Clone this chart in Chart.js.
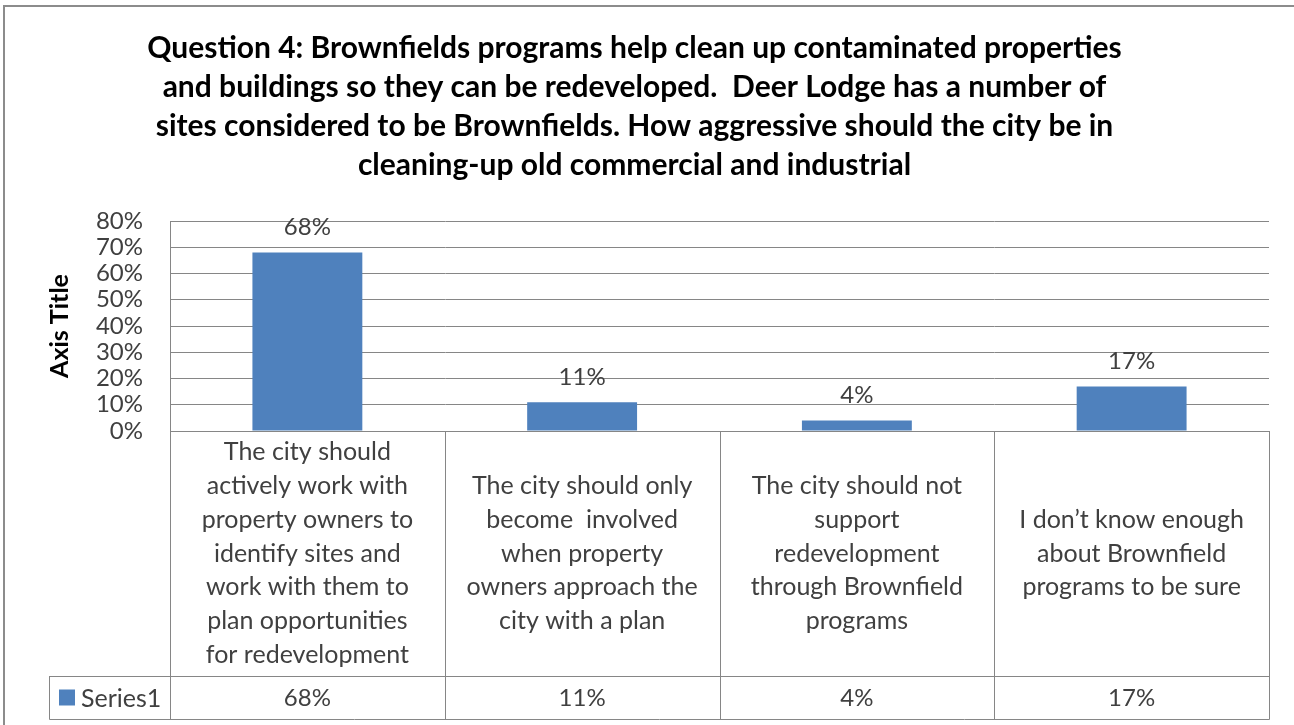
<!DOCTYPE html>
<html>
<head>
<meta charset="utf-8">
<script src="https://cdn.jsdelivr.net/npm/chart.js@4.4.1/dist/chart.umd.min.js"></script>
<style>
  html, body { margin: 0; background: #fff; overflow: hidden; }
  #wrap { width: 1294px; height: 725px; }
  #myChart { display: block; }
</style>
</head>
<body>
<div id="wrap"><canvas id="myChart" width="1294" height="725"></canvas></div>
<script>
const titleLines = [
  'Question 4: Brownfields programs help clean up contaminated properties',
  'and buildings so they can be redeveloped.  Deer Lodge has a number of',
  'sites considered to be Brownfields. How aggressive should the city be in',
  'cleaning-up old commercial and industrial'
];

const categories = [
  ['The city should', 'actively work with', 'property owners to', 'identify sites and', 'work with them to', 'plan opportunities', 'for redevelopment'],
  ['The city should only', 'become  involved', 'when property', 'owners approach the', 'city with a plan'],
  ['The city should not', 'support', 'redevelopment', 'through Brownfield', 'programs'],
  ['I don\u2019t know enough', 'about Brownfield', 'programs to be sure']
];

const seriesName = 'Series1';
const seriesValues = [68, 11, 4, 17];
const yTicks = [0, 10, 20, 30, 40, 50, 60, 70, 80];

const barColor = '#4F81BD';
const lineColor = '#868686';
const textColor = '#404040';
const fontName = 'Lato';

const myChartElement = document.getElementById('myChart');

// white background + outer chart frame (only top and left edges are visible)
const frame = {
  id: 'frame',
  beforeDraw(chart) {
    const ctx = chart.ctx;
    ctx.save();
    ctx.fillStyle = '#fff';
    ctx.fillRect(0, 0, chart.width, chart.height);
    ctx.strokeStyle = '#8c8c8c';
    ctx.lineWidth = 2;
    ctx.beginPath();
    ctx.moveTo(4, chart.height);
    ctx.lineTo(4, 6);
    ctx.lineTo(chart.width, 6);
    ctx.stroke();
    ctx.restore();
  }
};

// values written above each bar
const barLabels = {
  id: 'barLabels',
  afterDatasetsDraw(chart) {
    const ctx = chart.ctx;
    const meta = chart.getDatasetMeta(0);
    ctx.save();
    ctx.font = '24px ' + fontName;
    ctx.fillStyle = textColor;
    ctx.textAlign = 'center';
    ctx.textBaseline = 'middle';
    meta.data.forEach((bar, i) => {
      ctx.fillText(seriesValues[i] + '%', bar.x, bar.y - 25);
    });
    ctx.restore();
  }
};

// excel style data table under the plot
const dataTable = {
  id: 'dataTable',
  afterDraw(chart) {
    const ctx = chart.ctx;
    const area = chart.chartArea;
    const xScale = chart.scales.x;
    const colW = (area.right - area.left) / categories.length;
    const catBottom = area.bottom + 245;
    const rowBottom = catBottom + 43;
    const legendLeft = 49;
    const px = v => Math.round(v) + 0.5;

    ctx.save();
    ctx.strokeStyle = lineColor;
    ctx.lineWidth = 1;
    ctx.beginPath();
    for (let i = 0; i <= categories.length; i++) {
      const xPos = i < categories.length ? xScale.getPixelForValue(i) - colW / 2 : xScale.getPixelForValue(i - 1) + colW / 2;
      ctx.moveTo(px(xPos), area.bottom);
      ctx.lineTo(px(xPos), px(rowBottom));
    }
    ctx.moveTo(legendLeft, px(catBottom));
    ctx.lineTo(area.right, px(catBottom));
    ctx.moveTo(px(legendLeft), px(catBottom));
    ctx.lineTo(px(legendLeft), px(rowBottom));
    ctx.lineTo(px(area.right), px(rowBottom));
    ctx.stroke();

    ctx.fillStyle = textColor;
    ctx.textAlign = 'center';
    ctx.textBaseline = 'middle';
    ctx.font = '25px ' + fontName;
    const lineH = 33.7;
    const cellMid = (area.bottom + catBottom) / 2;
    const rowMid = (catBottom + rowBottom) / 2;
    categories.forEach((lines, i) => {
      const cx = xScale.getPixelForValue(i);
      const y0 = cellMid - (lines.length - 1) * lineH / 2;
      lines.forEach((t, j) => ctx.fillText(t, cx, y0 + j * lineH));
    });

    ctx.font = '24px ' + fontName;
    seriesValues.forEach((v, i) => {
      ctx.fillText(v + '%', xScale.getPixelForValue(i), rowMid + 1);
    });

    ctx.fillStyle = barColor;
    ctx.fillRect(59, rowMid - 8, 16, 16);
    ctx.fillStyle = textColor;
    ctx.textAlign = 'left';
    ctx.font = '25px ' + fontName;
    ctx.fillText(seriesName, 81, rowMid + 1);
    ctx.restore();
  }
};

let myChart = new Chart(myChartElement, {
  type: 'bar',
  data: {
    labels: categories,
    datasets: [{
      label: seriesName,
      data: seriesValues,
      backgroundColor: barColor,
      borderWidth: 0,
      categoryPercentage: 0.4,
      barPercentage: 1.0
    }]
  },
  options: {
    responsive: false,
    animation: false,
    layout: {
      padding: { left: 0, top: 0, right: 25, bottom: 294 }
    },
    plugins: {
      legend: { display: false },
      tooltip: { enabled: false },
      title: {
        display: true,
        text: titleLines,
        color: '#000',
        font: { family: fontName, size: 30, weight: 'bold', lineHeight: 1.3 },
        padding: { top: 29, bottom: 36 }
      }
    },
    scales: {
      x: {
        display: false
      },
      y: {
        min: 0,
        max: 80,
        afterBuildTicks: scale => {
          scale.ticks = yTicks.map(v => ({ value: v }));
        },
        afterFit: scale => {
          scale.width = 170;
        },
        ticks: {
          autoSkip: false,
          padding: 27,
          color: textColor,
          font: { family: fontName, size: 24 },
          callback: v => v + '%'
        },
        grid: {
          color: lineColor,
          drawTicks: false
        },
        border: {
          display: true,
          color: lineColor
        },
        title: {
          display: true,
          text: 'Axis Title',
          color: '#000',
          font: { family: fontName, size: 25, weight: 'bold' },
          padding: { top: 45, bottom: 0 }
        }
      }
    }
  },
  plugins: [frame, barLabels, dataTable]
});
</script>
</body>
</html>
